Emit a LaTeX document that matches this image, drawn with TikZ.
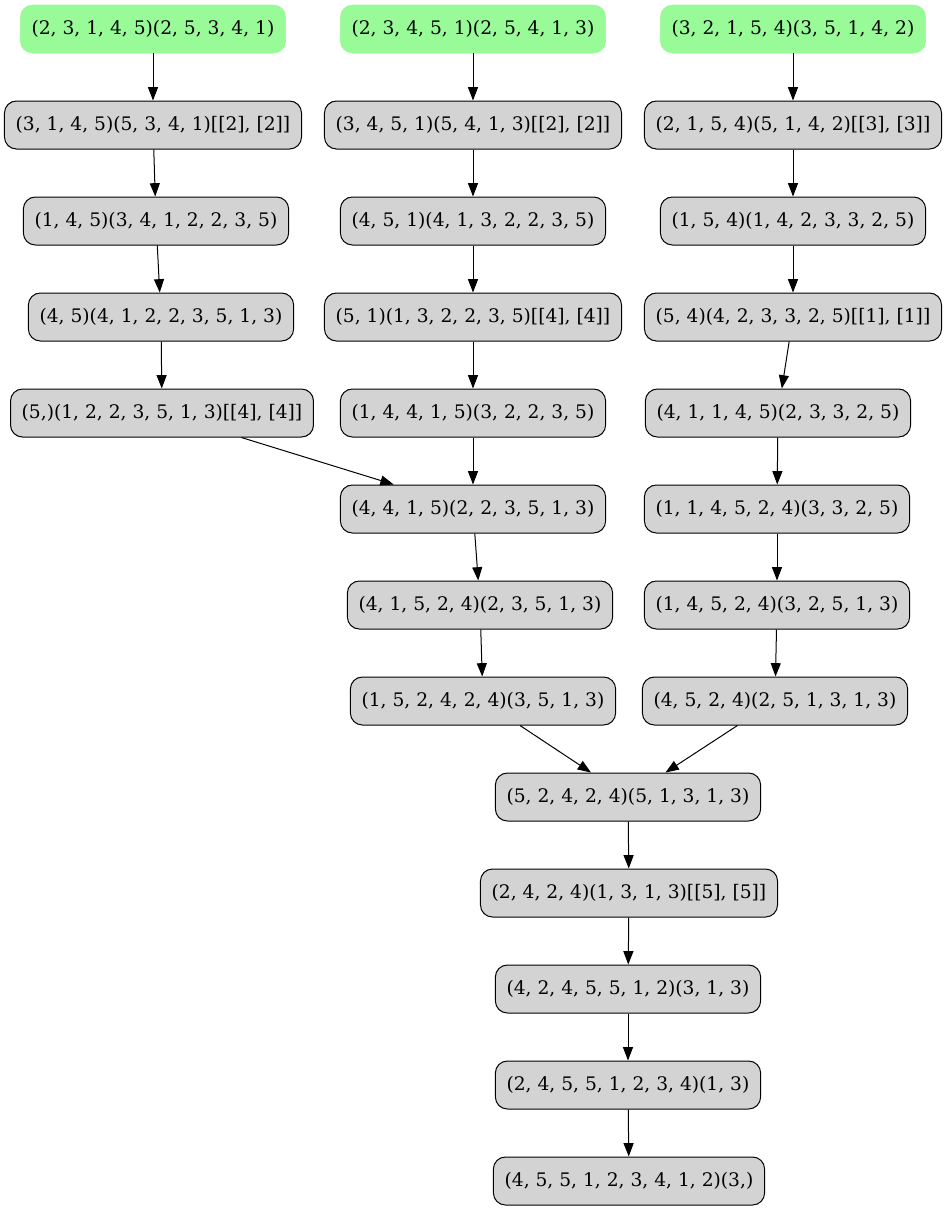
\documentclass[tikz,border=0pt]{standalone}
\usepackage{fontspec}
\setmainfont{DejaVu Serif}
\usetikzlibrary{arrows.meta}
\definecolor{pgreen}{HTML}{98FB98}
\definecolor{lgray}{HTML}{D3D3D3}
\begin{document}
\begin{tikzpicture}[x=0.75pt,y=-0.75pt,
  base/.style={rounded corners=9pt,minimum height=36pt,inner xsep=8.4pt,inner ysep=0pt,font=\fontsize{14pt}{16pt}\selectfont},
  startbox/.style={base,fill=pgreen,draw=pgreen},
  graybox/.style={base,fill=lgray,draw=black,line width=0.75pt},
  edge/.style={draw=black,line width=0.75pt,-{Triangle[length=10pt,width=7.5pt]}}]
\useasboundingbox (0,0) rectangle (947,1211);
\node[startbox] (a1) at (153,29) {(2, 3, 1, 4, 5)(2, 5, 3, 4, 1)};
\node[startbox] (a2) at (473,29) {(2, 3, 4, 5, 1)(2, 5, 4, 1, 3)};
\node[startbox] (a3) at (793,29) {(3, 2, 1, 5, 4)(3, 5, 1, 4, 2)};
\node[graybox] (b1) at (153,125) {(3, 1, 4, 5)(5, 3, 4, 1)[[2], [2]]};
\node[graybox] (b2) at (473,125) {(3, 4, 5, 1)(5, 4, 1, 3)[[2], [2]]};
\node[graybox] (b3) at (793,125) {(2, 1, 5, 4)(5, 1, 4, 2)[[3], [3]]};
\node[graybox] (c1) at (156,221) {(1, 4, 5)(3, 4, 1, 2, 2, 3, 5)};
\node[graybox] (c2) at (473,221) {(4, 5, 1)(4, 1, 3, 2, 2, 3, 5)};
\node[graybox] (c3) at (793,221) {(1, 5, 4)(1, 4, 2, 3, 3, 2, 5)};
\node[graybox] (d1) at (161,317) {(4, 5)(4, 1, 2, 2, 3, 5, 1, 3)};
\node[graybox] (d2) at (473,317) {(5, 1)(1, 3, 2, 2, 3, 5)[[4], [4]]};
\node[graybox] (d3) at (793,317) {(5, 4)(4, 2, 3, 3, 2, 5)[[1], [1]]};
\node[graybox] (e1) at (162,413) {(5,)(1, 2, 2, 3, 5, 1, 3)[[4], [4]]};
\node[graybox] (e2) at (473,413) {(1, 4, 4, 1, 5)(3, 2, 2, 3, 5)};
\node[graybox] (e3) at (778,413) {(4, 1, 1, 4, 5)(2, 3, 3, 2, 5)};
\node[graybox] (f2) at (473,509) {(4, 4, 1, 5)(2, 2, 3, 5, 1, 3)};
\node[graybox] (f3) at (777,509) {(1, 1, 4, 5, 2, 4)(3, 3, 2, 5)};
\node[graybox] (g2) at (480,605) {(4, 1, 5, 2, 4)(2, 3, 5, 1, 3)};
\node[graybox] (g3) at (777,605) {(1, 4, 5, 2, 4)(3, 2, 5, 1, 3)};
\node[graybox] (h2) at (483,701) {(1, 5, 2, 4, 2, 4)(3, 5, 1, 3)};
\node[graybox] (h3) at (775,701) {(4, 5, 2, 4)(2, 5, 1, 3, 1, 3)};
\node[graybox] (i) at (628,797) {(5, 2, 4, 2, 4)(5, 1, 3, 1, 3)};
\node[graybox] (j) at (629,893) {(2, 4, 2, 4)(1, 3, 1, 3)[[5], [5]]};
\node[graybox] (k) at (628,989) {(4, 2, 4, 5, 5, 1, 2)(3, 1, 3)};
\node[graybox] (l) at (628,1085) {(2, 4, 5, 5, 1, 2, 3, 4)(1, 3)};
\node[graybox] (m) at (629,1181) {(4, 5, 5, 1, 2, 3, 4, 1, 2)(3,)};
\draw[edge] (a1) -- (b1);
\draw[edge] (b1) -- (c1);
\draw[edge] (c1) -- (d1);
\draw[edge] (d1) -- (e1);
\draw[edge] (e1) -- (f2);
\draw[edge] (a2) -- (b2);
\draw[edge] (b2) -- (c2);
\draw[edge] (c2) -- (d2);
\draw[edge] (d2) -- (e2);
\draw[edge] (e2) -- (f2);
\draw[edge] (f2) -- (g2);
\draw[edge] (g2) -- (h2);
\draw[edge] (h2) -- (i);
\draw[edge] (a3) -- (b3);
\draw[edge] (b3) -- (c3);
\draw[edge] (c3) -- (d3);
\draw[edge] (d3) -- (e3);
\draw[edge] (e3) -- (f3);
\draw[edge] (f3) -- (g3);
\draw[edge] (g3) -- (h3);
\draw[edge] (h3) -- (i);
\draw[edge] (i) -- (j);
\draw[edge] (j) -- (k);
\draw[edge] (k) -- (l);
\draw[edge] (l) -- (m);
\end{tikzpicture}
\end{document}
